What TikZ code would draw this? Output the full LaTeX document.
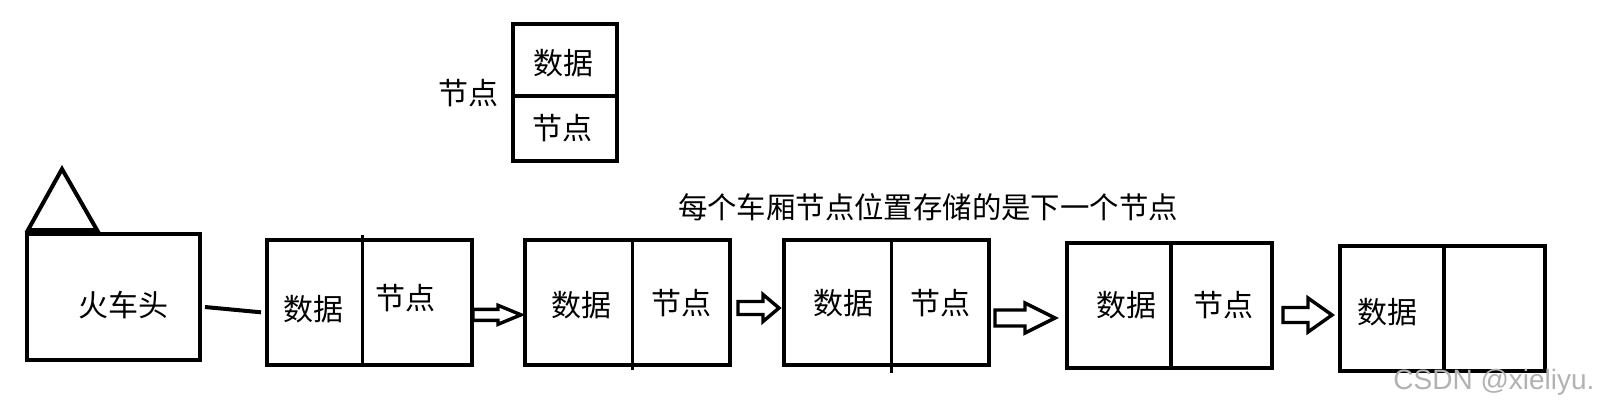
\documentclass[tikz,border=0pt]{standalone}
\usepackage{fontspec}
\newfontfamily\cjk{Noto Sans CJK SC}
\newfontfamily\markfont{Liberation Sans}
\usetikzlibrary{calc}
\tikzset{
  car/.style={draw,line width=2pt,minimum width=102.5pt,minimum height=62.5pt,inner sep=0pt,outer sep=0pt},
  divline/.style={line width=1.8pt},
  lbl/.style={font=\cjk\fontsize{15}{18}\selectfont,inner sep=0pt},
  blockarrow/.style n args={3}{line width=1.7pt,
    to path={let \p1=(\tikztostart),\p2=(\tikztotarget) in
      (\x1,\y1+#1) -- (\x2-#3,\y1+#1) -- (\x2-#3,\y1+#2) -- (\x2,\y1)
      -- (\x2-#3,\y1-#2) -- (\x2-#3,\y1-#1) -- (\x1,\y1-#1) -- cycle}}
}

\begin{document}
\begin{tikzpicture}[x=0.5pt,y=-0.5pt]
\useasboundingbox (0,0) rectangle (1605,408);
\node[car,minimum width=52.25pt,minimum height=68.5pt] (legend) at (565,92.5) {};
\draw[divline] (515,95.7) -- (616,95.7);
\node[lbl] (legdata) at (563,63) {数据};
\node[lbl] (legnext) at (562,128) {节点};
\node[lbl] (legname) at (468,93) {节点};

\draw[line width=2pt] (28,230) -- (62,169) -- (97,230) -- cycle;
\node[car,minimum width=86.5pt,minimum height=63pt] (head) at (113.5,297) {};
\node[lbl] (headtxt) at (123,305) {火车头};

\node[car] (c1) at (369.5,302.3) {};
\node[car] (c2) at (627.5,302.5) {};
\node[car] (c3) at (886,302.5) {};
\node[car] (c4) at (1169,305) {};
\node[car] (c5) at (1442,308.6) {};
\draw[divline] (362.3,235) -- (362.3,365);
\draw[divline] (632.6,240) -- (632.6,370);
\draw[divline] (891.5,240) -- (891.5,373);
\draw[divline] (1171,242) -- (1171,367);
\draw[divline] (1444,246) -- (1444,371);

\node[lbl] (d1) at (313,309) {数据};
\node[lbl] (n1) at (405,298) {节点};
\node[lbl] (d2) at (581,305) {数据};
\node[lbl] (n2) at (681,303) {节点};
\node[lbl] (d3) at (843,303) {数据};
\node[lbl] (n3) at (940,303) {节点};
\node[lbl] (d4) at (1126,305) {数据};
\node[lbl] (n4) at (1223,305) {节点};
\node[lbl] (d5) at (1387,312) {数据};

\node[lbl,font=\cjk\fontsize{14.7}{18}\selectfont] (caption) at (928,207) {每个车厢节点位置存储的是下一个节点};

\draw[line width=2pt] ($(head.east)+(5,10)$) -- ($(c1.west)+(-6,10)$);
\draw[blockarrow={2.75pt}{4.75pt}{11.5pt}] ($(c1.east)+(1,12.5)$) to ($(c2.west)+(-4,12.5)$);
\draw[blockarrow={3.25pt}{6.75pt}{8pt}] ($(c2.east)+(8,5.5)$) to ($(c3.west)+(-4.5,5.5)$);
\draw[blockarrow={4pt}{7.5pt}{15pt}] ($(c3.east)+(6.5,15.5)$) to ($(c4.west)+(-11.5,13)$);
\draw[blockarrow={3.75pt}{8.5pt}{12pt}] ($(c4.east)+(11.5,10)$) to ($(c5.west)+(-7.5,6.4)$);

\node[font=\markfont\fontsize{14}{16}\selectfont,text=black!30,inner sep=0pt] (mark) at (1494,382) {CSDN @xieliyu.};
\end{tikzpicture}
\end{document}
